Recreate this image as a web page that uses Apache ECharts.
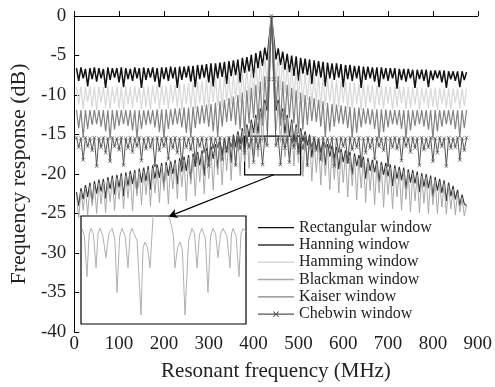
<!DOCTYPE html>
<html><head><meta charset="utf-8">
<script src="https://cdn.jsdelivr.net/npm/echarts@6/dist/echarts.min.js"></script>
<style>html,body{margin:0;padding:0;background:#fff}#c{width:495px;height:387px}</style>
</head><body><div id="c"></div><script>
// Frequency samples (MHz)
const freq = [5,10,15,20,25,30,35,40,45,50,
55,60,65,70,75,80,85,90,95,100,
105,110,115,120,125,130,135,140,145,150,
155,160,165,170,175,180,185,190,195,200,
205,210,215,220,225,230,235,240,245,250,
255,260,265,270,275,280,285,290,295,300,
305,310,315,320,325,330,335,340,345,350,
355,360,365,370,375,380,385,390,395,400,
405,410,415,420,425,430,435,
440,
445,450,455,460,465,470,475,480,485,490,
495,500,505,510,515,520,525,530,535,540,
545,550,555,560,565,570,575,580,585,590,
595,600,605,610,615,620,625,630,635,640,
645,650,655,660,665,670,675,680,685,690,
695,700,705,710,715,720,725,730,735,740,
745,750,755,760,765,770,775,780,785,790,
795,800,805,810,815,820,825,830,835,840,
845,850,855,860,865,870,875];

const rectangular = [-6.6,-8.2,-6.5,-7.9,-6.7,-8.9,-6.6,-8.0,-6.5,-8.3,
-6.6,-7.9,-6.7,-9.1,-6.5,-8.1,-6.6,-7.8,-6.6,-8.4,
-6.5,-9.0,-6.6,-8.0,-6.7,-8.2,-6.5,-7.9,-6.6,-9.1,
-6.5,-8.1,-6.6,-7.8,-6.5,-8.3,-6.6,-9.0,-6.5,-8.0,
-6.5,-8.2,-6.4,-7.9,-6.5,-9.1,-6.4,-8.1,-6.4,-7.8,
-6.3,-8.3,-6.3,-9.0,-6.2,-8.0,-6.2,-7.8,-6.1,-8.4,
-6.0,-8.9,-6.0,-7.9,-5.9,-7.7,-5.8,-8.6,-5.7,-7.6,
-5.6,-7.5,-5.5,-8.4,-5.3,-7.2,-5.2,-7.0,-4.9,-7.8,
-4.7,-6.6,-4.4,-6.3,-4.0,-5.6,-2.8,
0,
-2.9,-5.5,-4.1,-6.2,-4.5,-6.8,-4.8,-7.1,-5.0,-7.6,
-5.1,-8.2,-5.3,-7.3,-5.4,-7.5,-5.5,-8.6,-5.6,-7.6,
-5.7,-7.8,-5.8,-8.9,-5.9,-7.9,-6.0,-8.1,-6.0,-7.8,
-6.1,-9.0,-6.2,-8.0,-6.2,-8.2,-6.3,-7.9,-6.3,-9.1,
-6.4,-8.1,-6.4,-7.9,-6.5,-8.3,-6.5,-9.0,-6.5,-8.0,
-6.6,-8.2,-6.6,-7.9,-6.6,-9.2,-6.7,-8.1,-6.7,-8.3,
-6.7,-7.9,-6.8,-9.1,-6.8,-8.0,-6.8,-8.2,-6.8,-9.0,
-6.9,-8.1,-6.9,-7.9,-6.9,-8.4,-6.9,-9.1,-7.0,-8.0,
-7.0,-8.2,-7.0,-9.0,-7.0,-8.1,-7.1];

const hanning = [-22.3,-24.0,-21.8,-23.2,-21.4,-22.9,-21.1,-23.6,-20.9,-22.5,
-20.7,-22.2,-20.6,-23.1,-20.4,-21.9,-20.2,-22.6,-20.1,-21.7,
-19.9,-22.8,-19.8,-21.5,-19.6,-21.3,-19.5,-22.4,-19.3,-21.1,
-19.2,-20.9,-19.0,-22.0,-18.9,-20.6,-18.8,-20.5,-18.6,-21.6,
-18.5,-20.2,-18.4,-20.0,-18.2,-21.3,-18.0,-19.7,-17.8,-19.6,
-17.6,-20.8,-17.4,-19.1,-17.2,-18.9,-17.0,-20.2,-16.7,-18.5,
-16.5,-18.1,-16.2,-19.3,-15.9,-17.6,-15.6,-17.3,-15.3,-18.6,
-15.0,-16.6,-14.6,-16.2,-14.2,-17.5,-13.7,-15.3,-13.1,-14.8,
-12.5,-14.9,-11.7,-13.2,-10.6,-12.0,-7.5,
0,
-7.5,-12.0,-10.6,-13.2,-11.7,-14.9,-12.5,-15.3,-13.1,-16.0,
-13.7,-17.4,-14.2,-15.9,-14.6,-16.4,-15.0,-17.9,-15.3,-16.9,
-15.6,-17.3,-15.9,-18.9,-16.2,-17.8,-16.4,-18.0,-16.6,-19.4,
-16.8,-18.5,-17.0,-18.7,-17.2,-20.1,-17.4,-19.0,-17.6,-19.2,
-17.8,-20.6,-18.0,-19.6,-18.2,-19.8,-18.3,-21.0,-18.5,-20.1,
-18.6,-20.3,-18.8,-21.5,-18.9,-20.6,-19.1,-20.8,-19.2,-21.9,
-19.4,-21.1,-19.5,-21.2,-19.7,-22.3,-19.9,-21.6,-20.0,-21.8,
-20.2,-22.9,-20.4,-22.1,-20.6,-22.4,-20.8,-23.4,-21.1,-22.8,
-21.5,-23.2,-22.0,-24.0,-22.6,-23.8,-24.0];

const hamming = [-9.0,-11.2,-8.9,-11.8,-9.0,-10.9,-8.9,-11.5,-9.0,-11.9,
-8.9,-11.0,-9.0,-11.6,-8.9,-11.8,-9.0,-11.1,-8.9,-11.7,
-9.0,-11.9,-8.9,-11.2,-9.0,-11.6,-8.9,-11.0,-9.0,-11.8,
-8.9,-11.5,-8.9,-11.9,-8.8,-11.1,-8.8,-11.7,-8.8,-11.3,
-8.8,-11.8,-8.7,-11.0,-8.7,-11.6,-8.6,-11.9,-8.6,-11.2,
-8.5,-11.6,-8.4,-11.8,-8.3,-11.0,-8.2,-11.5,-8.1,-11.7,
-8.0,-10.9,-7.9,-11.4,-7.8,-11.6,-7.6,-10.8,-7.5,-11.2,
-7.3,-10.6,-7.1,-11.0,-6.9,-10.4,-6.6,-10.7,-6.3,-10.1,
-6.0,-9.8,-5.6,-9.4,-5.0,-8.6,-3.5,
0,
-3.5,-8.6,-5.0,-9.4,-5.6,-9.8,-6.0,-10.2,-6.3,-10.7,
-6.6,-10.5,-6.9,-11.0,-7.1,-10.7,-7.3,-11.2,-7.5,-10.9,
-7.6,-11.6,-7.8,-11.4,-7.9,-10.9,-8.0,-11.7,-8.1,-11.5,
-8.2,-11.0,-8.3,-11.8,-8.4,-11.6,-8.5,-11.2,-8.6,-11.9,
-8.6,-11.6,-8.7,-11.0,-8.7,-11.8,-8.8,-11.3,-8.8,-11.7,
-8.8,-11.1,-8.9,-11.9,-8.9,-11.5,-8.9,-11.0,-9.0,-11.8,
-9.0,-11.6,-9.0,-11.2,-9.0,-11.9,-9.1,-11.0,-9.1,-11.7,
-9.1,-11.5,-9.1,-11.9,-9.1,-11.1,-9.2,-11.6,-9.2,-11.8,
-9.2,-11.0,-9.2,-11.7,-9.2,-11.4,-9.2];

const blackman = [-22.7,-25.5,-22.2,-24.6,-21.8,-25.2,-21.5,-24.0,-21.3,-25.0,
-21.1,-23.8,-21.0,-24.9,-20.8,-23.5,-20.6,-24.6,-20.5,-23.2,
-20.3,-24.4,-20.2,-23.0,-20.0,-24.7,-19.9,-22.8,-19.7,-23.9,
-19.6,-22.6,-19.4,-24.1,-19.3,-22.4,-19.2,-23.6,-19.0,-22.1,
-18.9,-23.8,-18.8,-21.9,-18.6,-23.1,-18.4,-21.6,-18.2,-23.4,
-18.0,-21.3,-17.8,-22.8,-17.6,-21.0,-17.4,-22.5,-17.1,-20.6,
-16.9,-22.0,-16.6,-20.1,-16.3,-21.4,-16.0,-19.6,-15.7,-20.8,
-15.4,-19.0,-15.0,-20.2,-14.6,-18.4,-14.1,-19.3,-13.5,-17.6,
-12.9,-17.8,-12.1,-16.0,-11.0,-14.5,-9.0,
0,
-9.0,-14.5,-11.0,-16.0,-12.1,-17.8,-12.9,-17.9,-13.5,-19.0,
-14.1,-18.6,-14.6,-20.3,-15.0,-19.1,-15.4,-20.9,-15.7,-19.8,
-16.0,-21.4,-16.3,-20.2,-16.6,-22.0,-16.8,-20.7,-17.0,-22.4,
-17.2,-21.1,-17.4,-22.9,-17.6,-21.5,-17.8,-23.3,-18.0,-21.8,
-18.2,-23.6,-18.4,-22.1,-18.6,-23.9,-18.7,-22.4,-18.9,-24.2,
-19.0,-22.6,-19.2,-24.4,-19.3,-22.9,-19.5,-24.6,-19.6,-23.2,
-19.8,-24.8,-19.9,-23.4,-20.1,-24.9,-20.3,-23.7,-20.4,-25.0,
-20.6,-23.9,-20.8,-25.0,-21.0,-24.2,-21.2,-25.1,-21.5,-24.4,
-21.9,-25.2,-22.4,-24.8,-23.0,-25.3,-24.0];

const kaiser = [-11.9,-14.2,-11.9,-15.4,-11.9,-14.3,-11.9,-13.8,-11.9,-13.7,
-11.9,-14.0,-11.9,-14.6,-11.9,-15.5,-11.9,-14.4,-11.9,-13.9,
-11.9,-13.7,-11.9,-13.9,-11.9,-14.5,-11.9,-15.5,-11.9,-14.3,
-11.9,-13.8,-11.9,-13.7,-11.9,-14.1,-11.8,-14.7,-11.8,-15.5,
-11.8,-14.3,-11.8,-13.8,-11.7,-13.7,-11.7,-14.1,-11.6,-14.8,
-11.6,-15.4,-11.5,-14.2,-11.4,-13.7,-11.3,-13.6,-11.2,-14.0,
-11.1,-14.6,-11.0,-15.3,-10.8,-14.0,-10.6,-13.4,-10.4,-13.3,
-10.2,-13.8,-10.0,-14.4,-9.7,-14.9,-9.4,-13.6,-9.1,-12.9,
-8.7,-13.2,-8.3,-13.9,-7.6,-11.5,-4.8,
0,
-4.8,-11.5,-7.6,-13.9,-8.3,-13.2,-8.7,-12.9,-9.1,-13.6,
-9.4,-14.9,-9.7,-14.4,-10.0,-13.8,-10.2,-13.3,-10.4,-13.4,
-10.6,-14.0,-10.8,-15.3,-11.0,-14.6,-11.1,-14.0,-11.2,-13.6,
-11.3,-13.7,-11.4,-14.2,-11.5,-15.4,-11.6,-14.8,-11.6,-14.1,
-11.7,-13.7,-11.7,-13.8,-11.8,-14.3,-11.8,-15.5,-11.8,-14.7,
-11.8,-14.1,-11.9,-13.7,-11.9,-13.8,-11.9,-14.3,-11.9,-15.5,
-11.9,-14.5,-11.9,-13.9,-11.9,-13.7,-11.9,-14.0,-11.9,-14.4,
-11.9,-15.5,-11.9,-14.6,-11.9,-14.0,-11.9,-13.7,-11.9,-13.8,
-11.9,-14.3,-11.9,-15.4,-11.9,-14.2,-11.9];

const chebwin = [-15.4,-16.6,-15.5,-18.2,-15.4,-16.5,-15.5,-17.0,-15.4,-19.0,
-15.5,-16.6,-15.4,-17.3,-15.5,-18.4,-15.4,-16.5,-15.5,-16.9,
-15.4,-18.9,-15.5,-16.7,-15.4,-17.2,-15.5,-16.5,-15.4,-18.3,
-15.5,-16.8,-15.4,-16.6,-15.5,-19.0,-15.4,-17.0,-15.5,-16.5,
-15.4,-18.1,-15.5,-16.7,-15.4,-17.3,-15.5,-18.8,-15.4,-16.6,
-15.5,-16.9,-15.4,-18.4,-15.5,-16.5,-15.4,-17.2,-15.5,-19.0,
-15.4,-16.7,-15.5,-16.6,-15.4,-18.2,-15.5,-17.0,-15.4,-16.5,
-15.5,-18.9,-15.4,-16.8,-15.5,-17.3,-15.4,-16.6,-15.5,-18.5,
-15.4,-16.7,-15.5,-18.8,-15.4,-16.4,-8.0,
0,
-8.0,-16.4,-15.4,-18.8,-15.5,-16.7,-15.4,-18.5,-15.5,-16.6,
-15.4,-17.3,-15.5,-16.8,-15.4,-18.9,-15.5,-16.5,-15.4,-17.0,
-15.5,-18.2,-15.4,-16.6,-15.5,-16.7,-15.4,-19.0,-15.5,-17.2,
-15.4,-16.5,-15.5,-18.4,-15.4,-16.9,-15.5,-16.6,-15.4,-18.8,
-15.5,-17.3,-15.4,-16.7,-15.5,-18.1,-15.4,-16.5,-15.5,-17.0,
-15.4,-19.0,-15.5,-16.6,-15.4,-16.8,-15.5,-18.3,-15.4,-16.5,
-15.5,-17.2,-15.4,-16.7,-15.5,-18.9,-15.4,-16.9,-15.5,-16.6,
-15.4,-18.4,-15.5,-17.3,-15.4,-16.5,-15.5,-19.0,-15.4,-16.7,
-15.5,-16.6,-15.4,-18.2,-15.5,-17.0,-15.4];

// Zoomed detail (inset) of the 380-505 MHz region
const insetFreq = [380.8,382.6,384.5,386.2,387.6,389.4,391.4,392.9,394.4,396.6,398.9,401.0,403.5,405.6,407.3,409.3,411.1,413.5,415.6,417.2,418.6,422.5,425.5,427.0,428.5,430.4,432.3,434.5,437.0,440,443.0,446.0,448.9,450.0,451.2,453.2,455.0,456.8,458.8,461.5,464.1,466.0,467.9,469.8,471.7,474.2,476.2,478.2,480.0,482.0,483.8,485.7,487.6,490.5,492.9,494.0,495.2,497.5,499.7,501.2,502.7,505];
const insetDb = [-15.75,-16.1,-17.9,-16.0,-15.75,-16.0,-17.5,-16.0,-15.75,-16.1,-17.05,-16.0,-15.75,-16.2,-18.6,-16.1,-15.75,-16.1,-17.5,-16.0,-15.75,-16.3,-19.6,-16.6,-16.36,-16.6,-17.5,-15.3,-12.0,0,-12.0,-15.0,-15.75,-16.1,-17.5,-16.6,-16.36,-16.7,-19.6,-16.3,-15.75,-16.0,-17.5,-16.0,-15.75,-16.2,-18.6,-16.1,-15.75,-16.0,-17.05,-16.0,-15.75,-16.1,-17.5,-16.0,-15.75,-16.1,-17.9,-16.0,-15.75,-15.9];

const xTicks = {min:0, max:900, interval:100};
const yTicks = {min:-40, max:0, interval:5};
const seriesNames = ['Rectangular window','Hanning window','Hamming window','Blackman window','Kaiser window','Chebwin window'];
const seriesValues = [rectangular, hanning, hamming, blackman, kaiser, chebwin];
const seriesColors = ['#121212','#363636','#d8d8d8','#a8a8a8','#838383','#555555'];
const seriesWidths = [1.5, 1.2, 1.2, 1.0, 1.2, 1.0];
const zoomBox = {x0:380, x1:505, y0:-15.2, y1:-20.1};
const arrowFrom = [445, -20.1], arrowTo = [210, -25.4];

const FONT = '"Liberation Serif","Times New Roman",serif';
const toPairs = (xs, ys) => xs.map((x,i)=>[x, ys[i]]);
const CROSS = 'path://M0,1L1,0L5,4L9,0L10,1L6,5L10,9L9,10L5,6L1,10L0,9L4,5Z';
// legend glyphs: a plain stroke, and a stroke with a cross marker (tiny anchors keep the box 36x10)
const LINE_ICON = 'path://M0,0L0.01,0L0,0.01Z M0,4.3L36,4.3L36,5.7L0,5.7Z M36,10L35.99,10L36,9.99Z';
const CROSS_ICON = 'path://M0,0L0.01,0L0,0.01Z M0,4.4L36,4.4L36,5.6L0,5.6Z M15,2.7L15.7,2L18,4.3L20.3,2L21,2.7L18.7,5L21,7.3L20.3,8L18,5.7L15.7,8L15,7.3L17.3,5Z M36,10L35.99,10L36,9.99Z';

const series = seriesNames.map((name, k) => {
  const s = {
    name, type:'line', xAxisIndex:0, yAxisIndex:0,
    data: toPairs(freq, seriesValues[k]),
    color: seriesColors[k],
    lineStyle:{width:seriesWidths[k], color: seriesColors[k]},
    symbol:'none', showSymbol:false, z: 2 + k*0.1,
    emphasis:{disabled:true}
  };
  if (name === 'Chebwin window') {
    s.symbol = CROSS;
    s.showSymbol = true;
    s.symbolSize = 4;
    s.itemStyle = {color: seriesColors[k]};
    s.markArea = {silent:true, itemStyle:{color:'rgba(0,0,0,0)', borderColor:'#000', borderWidth:1.2},
      data:[[{coord:[zoomBox.x0, zoomBox.y0]},{coord:[zoomBox.x1, zoomBox.y1]}]]};
    s.markLine = {silent:true, symbol:['none','arrow'], symbolSize:[7,9], label:{show:false},
      lineStyle:{color:'#000', width:1.2, type:'solid'},
      data:[[{coord:arrowFrom},{coord:arrowTo}]]};
  }
  return s;
});
series.push({
  name:'inset', type:'line', xAxisIndex:1, yAxisIndex:1,
  data: toPairs(insetFreq, insetDb), symbol:'none', z:6, clip:true,
  lineStyle:{width:1, color:'#b0b0b0'}, emphasis:{disabled:true}
});

const axisCommon = {
  axisLine:{show:true, lineStyle:{color:'#000', width:1}},
  axisTick:{show:true, inside:true, length:5, lineStyle:{color:'#000'}},
  splitLine:{show:false}
};

const chart = echarts.init(document.getElementById('c'), null, {renderer:'canvas'});
chart.setOption({
  animation:false,
  backgroundColor:'#fff',
  grid:[
    {left:70, right:17, top:16, bottom:55},
    {left:81, top:216, width:165, height:108, show:true, backgroundColor:'#fff', borderColor:'#000', borderWidth:1.2, z:5}
  ],
  legend:{
    data: seriesNames.map(n => ({name:n, icon: n === 'Chebwin window' ? CROSS_ICON : LINE_ICON})),
    orient:'vertical', left:258, top:219, padding:0,
    itemWidth:36, itemHeight:10, itemGap:0, selectedMode:false,
    textStyle:{fontFamily:FONT, fontSize:16, color:'#222', lineHeight:17.3}
  },
  xAxis:[
    Object.assign({type:'value', gridIndex:0, min:xTicks.min, max:xTicks.max, interval:xTicks.interval,
      name:'Resonant frequency (MHz)', nameLocation:'middle', nameGap:29,
      nameTextStyle:{fontFamily:FONT, fontSize:21, color:'#222'},
      axisLabel:{fontFamily:FONT, fontSize:19, color:'#222', margin:3}}, axisCommon),
    {type:'value', gridIndex:1, min:zoomBox.x0, max:zoomBox.x1, show:false}
  ],
  yAxis:[
    Object.assign({type:'value', gridIndex:0, min:yTicks.min, max:yTicks.max, interval:yTicks.interval,
      name:'Frequency response (dB)', nameLocation:'middle', nameGap:27, nameRotate:90,
      nameTextStyle:{fontFamily:FONT, fontSize:22, color:'#222'},
      axisLabel:{fontFamily:FONT, fontSize:19, color:'#222', margin:8}}, axisCommon),
    {type:'value', gridIndex:1, min:-20, max:-15.2, show:false}
  ],
  series
});
</script></body></html>
